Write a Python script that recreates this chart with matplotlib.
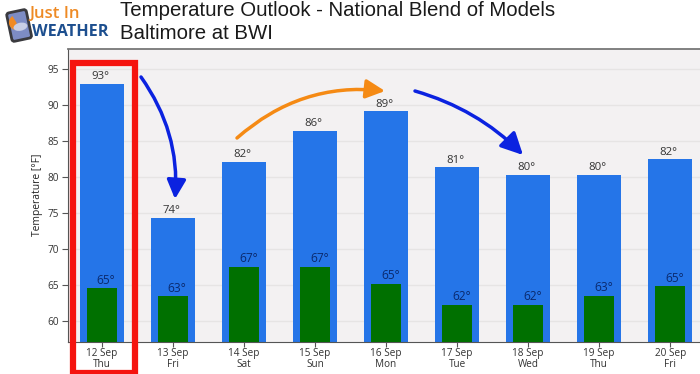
import matplotlib
matplotlib.use("Agg")
import matplotlib.pyplot as plt
from matplotlib.patches import FancyArrowPatch, FancyBboxPatch, Rectangle, Wedge, Ellipse
from matplotlib.transforms import Affine2D
import numpy as np

W, H = 700, 374

dates = ["12 Sep", "13 Sep", "14 Sep", "15 Sep", "16 Sep", "17 Sep", "18 Sep", "19 Sep", "20 Sep"]
days = ["Thu", "Fri", "Sat", "Sun", "Mon", "Tue", "Wed", "Thu", "Fri"]
high_vals = [92.9, 74.3, 82.1, 86.4, 89.1, 81.3, 80.3, 80.3, 82.4]
low_vals = [64.5, 63.4, 67.5, 67.5, 65.1, 62.2, 62.2, 63.5, 64.8]
high_labels = ["93°", "74°", "82°", "86°", "89°", "81°", "80°", "80°", "82°"]
low_labels = ["65°", "63°", "67°", "67°", "65°", "62°", "62°", "63°", "65°"]
y_ticks = [60, 65, 70, 75, 80, 85, 90, 95]

plt.rcParams["font.family"] = ["Open Sans", "DejaVu Sans"]

fig = plt.figure(figsize=(W / 100, H / 100), dpi=100, facecolor="white")

# chart axes, edges measured in pixels
left, right, top, bottom = 67.5, 700, 48.5, 341.7
ax = fig.add_axes([left / W, 1 - bottom / H, (right - left) / W, (bottom - top) / H])
ax.set_facecolor("#f3f1f2")

x = np.arange(len(dates))
ax.bar(x, high_vals, width=0.627, color="#2575e8", zorder=2)
ax.bar(x, low_vals, width=0.42, color="#007000", zorder=3)

for i in x:
    ax.annotate(high_labels[i], (i, high_vals[i]), xytext=(-1.2, 1.2), textcoords="offset points",
                ha="center", va="bottom", fontsize=8.2, color="#333333", zorder=4)
    ax.annotate(low_labels[i], (i, low_vals[i]), xytext=(3, 1.2), textcoords="offset points",
                ha="center", va="bottom", fontsize=8.6, color="#0a2a6e", zorder=4)

ax.set_xlim(-0.486, 8.42)
ax.set_ylim(57.1, 97.8)
ax.set_yticks(y_ticks)
ax.set_xticks(x)
ax.set_xticklabels([d + "\n" + n for d, n in zip(dates, days)], fontsize=7.2, color="#333333", linespacing=1.0)
ax.tick_params(axis="y", labelsize=7.2, labelcolor="#333333", length=4, color="#555555", width=0.8, pad=2)
ax.tick_params(axis="x", length=3.5, color="#555555", width=0.8, pad=1)
ax.set_ylabel("Temperature [°F]", fontsize=7.4, color="#222222", labelpad=3)
ax.grid(axis="y", color="#e6e4e4", linewidth=1, zorder=1)
ax.set_axisbelow(True)
ax.spines["right"].set_visible(False)
ax.spines["top"].set_color("#777777")
ax.spines["top"].set_linewidth(1.3)
ax.spines["left"].set_color("#555555")
ax.spines["bottom"].set_color("#555555")

# overlay in pixel coordinates for the hand drawn bits
ov = fig.add_axes([0, 0, 1, 1], facecolor="none")
ov.set_xlim(0, W)
ov.set_ylim(H, 0)
ov.axis("off")

ov.add_patch(Rectangle((73, 62.5), 61.7, 310.5, fill=False, edgecolor="#f5140f", linewidth=4.5, zorder=5))

def curved(start, end, rad, color, scale=26):
    ov.add_patch(FancyArrowPatch(start, end, connectionstyle=f"arc3,rad={rad}",
                                 arrowstyle="-|>,head_length=0.44,head_width=0.22", mutation_scale=scale,
                                 linewidth=2.5, color=color, shrinkA=0, shrinkB=0, zorder=6))

curved((141, 77), (175, 199), -0.18, "#0b22e0")
curved((237, 138), (385, 91), -0.22, "#f58a14")
curved((415, 91), (523, 155), -0.13, "#0b22e0", scale=30)

ov.text(120, 10, "Temperature Outlook - National Blend of Models", family="Liberation Sans",
        fontsize=14.7, color="#1a1a1a", ha="left", va="center")
ov.text(120, 33, "Baltimore at BWI", family="Liberation Sans",
        fontsize=14.7, color="#1a1a1a", ha="left", va="center")

# logo
rot = Affine2D().rotate_deg_around(19, 25, -12) + ov.transData
ov.add_patch(FancyBboxPatch((9, 11), 20, 29, boxstyle="round,pad=0,rounding_size=2.5",
                            facecolor="#7d8cc4", edgecolor="#3a3a3e", linewidth=2, transform=rot))
ov.add_patch(Wedge((17, 22), 7.5, 90, 250, facecolor="#f08a24", edgecolor="none", transform=rot))
ov.add_patch(Ellipse((20, 27), 14, 8, facecolor="#c9cfe6", edgecolor="none", transform=rot))
ov.text(29, 14, "Just In", family="Open Sans", fontsize=12, fontweight="semibold", color="#ee8a24",
        ha="left", va="center")
ov.text(32, 31.5, "WEATHER", family="Open Sans", fontsize=11.6, fontweight="bold", color="#1d4f8f",
        ha="left", va="center")

fig.savefig("out.png", dpi=100)
